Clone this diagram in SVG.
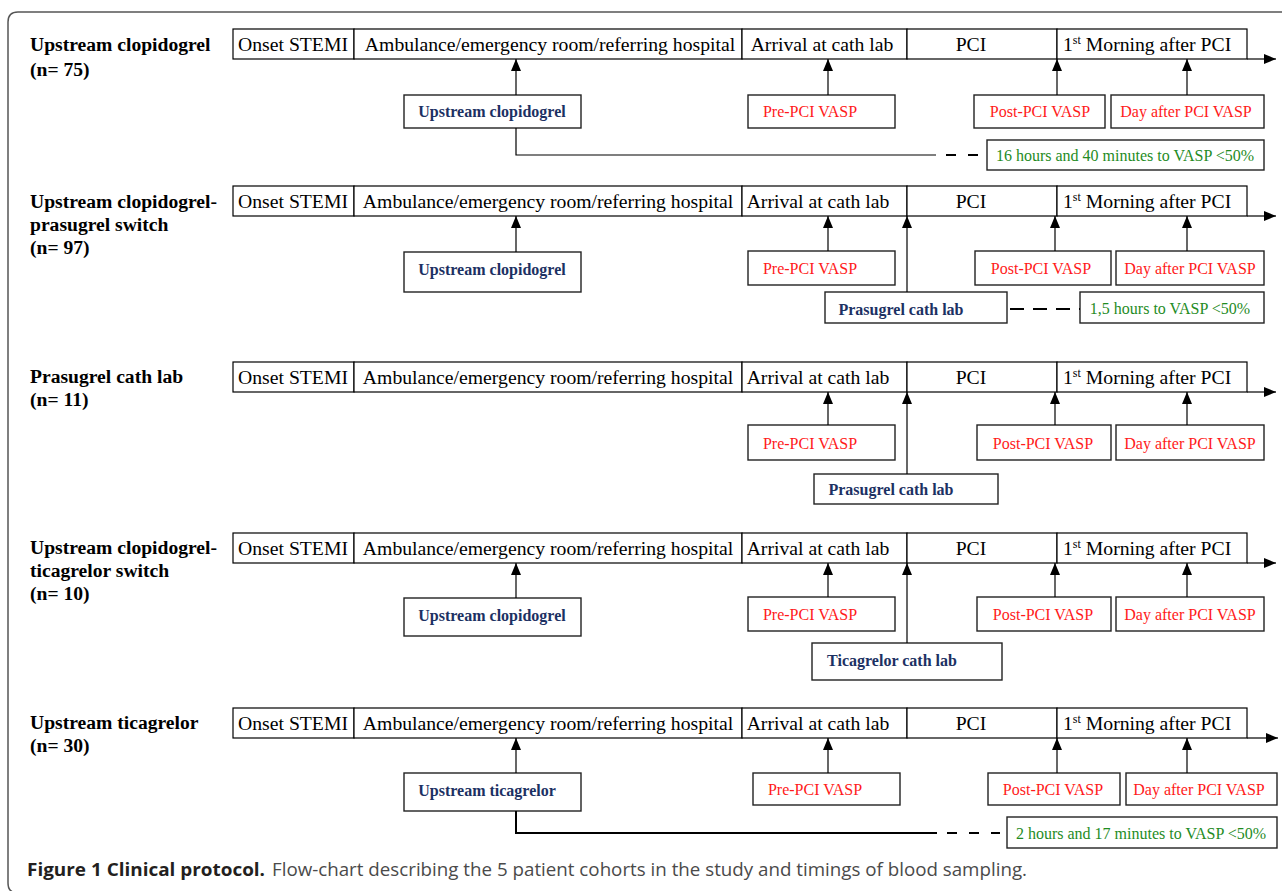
<svg xmlns="http://www.w3.org/2000/svg" width="1282" height="891" viewBox="0 0 1282 891">
<defs>
<style>
.bg{fill:#ffffff}
.frame{fill:none;stroke:#555;stroke-width:1.5}
.seg{fill:#fff;stroke:#000;stroke-width:1.2}
.axis{fill:none;stroke:#000;stroke-width:1.2}
.box{fill:#fff;stroke:#222;stroke-width:1.4}
.conn{fill:none;stroke:#000;stroke-width:1.2}
.dash{fill:none;stroke:#000;stroke-width:2;stroke-dasharray:10 12}
.t{font-family:"Liberation Serif","Times New Roman",serif;font-size:19.7px;fill:#000}
.lbl{font-family:"Liberation Serif","Times New Roman",serif;font-size:19.6px;font-weight:bold;fill:#000}
.blue{font-family:"Liberation Serif","Times New Roman",serif;font-size:16px;font-weight:bold;fill:#1c3163}
.red{font-family:"Liberation Serif","Times New Roman",serif;font-size:16px;fill:#ff1a1a}
.green{font-family:"Liberation Serif","Times New Roman",serif;font-size:16px;fill:#1f8c1f}
.mid{text-anchor:middle}
.cap{font-family:"Open Sans","Noto Sans",sans-serif;font-size:18.5px;fill:#4a4a4a}
.capb{font-family:"Open Sans","Noto Sans",sans-serif;font-size:18.5px;font-weight:bold;fill:#231f20}
</style>
<marker id="ah" viewBox="0 0 12 10" refX="12" refY="5" markerWidth="12" markerHeight="10" orient="auto" markerUnits="userSpaceOnUse">
<path d="M0,0 L12,5 L0,10 z" fill="#000"/>
</marker>
</defs>
<rect class="bg" x="0" y="0" width="1282" height="891"/>
<path class="frame" d="M18,893 Q8,893 8,883 L8,22 Q8,12 18,12 L1290,12"/>

<!-- Cohort labels -->
<g id="label1"><text class="lbl" x="30" y="51">Upstream clopidogrel</text><text class="lbl" x="30" y="76">(n= 75)</text></g>
<g id="label2"><text class="lbl" x="30" y="208">Upstream clopidogrel-</text><text class="lbl" x="30" y="231">prasugrel switch</text><text class="lbl" x="30" y="254">(n= 97)</text></g>
<g id="label3"><text class="lbl" x="30" y="383">Prasugrel cath lab</text><text class="lbl" x="30" y="406">(n= 11)</text></g>
<g id="label4"><text class="lbl" x="30" y="554">Upstream clopidogrel-</text><text class="lbl" x="30" y="577">ticagrelor switch</text><text class="lbl" x="30" y="600">(n= 10)</text></g>
<g id="label5"><text class="lbl" x="30" y="729">Upstream ticagrelor</text><text class="lbl" x="30" y="752">(n= 30)</text></g>

<!-- Timelines -->
<g id="timeline1" transform="translate(0,29)">
<rect class="seg" x="233" y="0" width="121" height="30"/><rect class="seg" x="354" y="0" width="388" height="30"/><rect class="seg" x="742" y="0" width="165" height="30"/><rect class="seg" x="907" y="0" width="150" height="30"/><rect class="seg" x="1057" y="0" width="190" height="30"/>
<line class="axis" x1="1247" y1="30" x2="1276" y2="30" marker-end="url(#ah)"/>
<text class="t mid" x="293" y="22">Onset STEMI</text><text class="t mid" x="550" y="22">Ambulance/emergency room/referring hospital</text><text class="t mid" x="822" y="22">Arrival at cath lab</text><text class="t mid" x="971" y="22">PCI</text><text class="t" x="1063" y="22">1<tspan font-size="12" dy="-7">st</tspan><tspan dy="7"> Morning after PCI</tspan></text>
</g>
<g id="timeline2" transform="translate(0,186)">
<rect class="seg" x="233" y="0" width="121" height="30"/><rect class="seg" x="354" y="0" width="388" height="30"/><rect class="seg" x="742" y="0" width="165" height="30"/><rect class="seg" x="907" y="0" width="150" height="30"/><rect class="seg" x="1057" y="0" width="190" height="30"/>
<line class="axis" x1="1247" y1="30" x2="1276" y2="30" marker-end="url(#ah)"/>
<text class="t mid" x="293" y="22">Onset STEMI</text><text class="t mid" x="548" y="22">Ambulance/emergency room/referring hospital</text><text class="t mid" x="818" y="22">Arrival at cath lab</text><text class="t mid" x="971" y="22">PCI</text><text class="t" x="1063" y="22">1<tspan font-size="12" dy="-7">st</tspan><tspan dy="7"> Morning after PCI</tspan></text>
</g>
<g id="timeline3" transform="translate(0,362)">
<rect class="seg" x="233" y="0" width="121" height="30"/><rect class="seg" x="354" y="0" width="388" height="30"/><rect class="seg" x="742" y="0" width="165" height="30"/><rect class="seg" x="907" y="0" width="150" height="30"/><rect class="seg" x="1057" y="0" width="190" height="30"/>
<line class="axis" x1="1247" y1="30" x2="1276" y2="30" marker-end="url(#ah)"/>
<text class="t mid" x="293" y="22">Onset STEMI</text><text class="t mid" x="548" y="22">Ambulance/emergency room/referring hospital</text><text class="t mid" x="818" y="22">Arrival at cath lab</text><text class="t mid" x="971" y="22">PCI</text><text class="t" x="1063" y="22">1<tspan font-size="12" dy="-7">st</tspan><tspan dy="7"> Morning after PCI</tspan></text>
</g>
<g id="timeline4" transform="translate(0,533)">
<rect class="seg" x="233" y="0" width="121" height="30"/><rect class="seg" x="354" y="0" width="388" height="30"/><rect class="seg" x="742" y="0" width="165" height="30"/><rect class="seg" x="907" y="0" width="150" height="30"/><rect class="seg" x="1057" y="0" width="190" height="30"/>
<line class="axis" x1="1247" y1="30" x2="1276" y2="30" marker-end="url(#ah)"/>
<text class="t mid" x="293" y="22">Onset STEMI</text><text class="t mid" x="548" y="22">Ambulance/emergency room/referring hospital</text><text class="t mid" x="818" y="22">Arrival at cath lab</text><text class="t mid" x="971" y="22">PCI</text><text class="t" x="1063" y="22">1<tspan font-size="12" dy="-7">st</tspan><tspan dy="7"> Morning after PCI</tspan></text>
</g>
<g id="timeline5" transform="translate(0,708)">
<rect class="seg" x="233" y="0" width="121" height="30"/><rect class="seg" x="354" y="0" width="388" height="30"/><rect class="seg" x="742" y="0" width="165" height="30"/><rect class="seg" x="907" y="0" width="150" height="30"/><rect class="seg" x="1057" y="0" width="190" height="30"/>
<line class="axis" x1="1247" y1="30" x2="1278" y2="30" marker-end="url(#ah)"/>
<text class="t mid" x="293" y="22">Onset STEMI</text><text class="t mid" x="548" y="22">Ambulance/emergency room/referring hospital</text><text class="t mid" x="818" y="22">Arrival at cath lab</text><text class="t mid" x="971" y="22">PCI</text><text class="t" x="1063" y="22">1<tspan font-size="12" dy="-7">st</tspan><tspan dy="7"> Morning after PCI</tspan></text>
</g>

<!-- Section 1 nodes -->
<g id="s1-upstream"><rect class="box" x="404" y="95" width="177" height="33"/><text class="blue mid" x="492" y="117">Upstream clopidogrel</text></g>
<g id="s1-pre"><rect class="box" x="748" y="95" width="147" height="33"/><text class="red mid" x="810" y="117">Pre-PCI VASP</text></g>
<g id="s1-post"><rect class="box" x="974" y="95" width="131" height="33"/><text class="red mid" x="1040" y="117">Post-PCI VASP</text></g>
<g id="s1-day"><rect class="box" x="1111" y="95" width="153" height="33"/><text class="red mid" x="1186" y="117">Day after PCI VASP</text></g>
<g id="s1-time"><rect class="box" x="987" y="140" width="277" height="30"/><text class="green mid" x="1125" y="161">16 hours and 40 minutes to VASP &lt;50%</text></g>

<!-- Section 2 nodes -->
<g id="s2-upstream"><rect class="box" x="404" y="252" width="177" height="40"/><text class="blue mid" x="492" y="275">Upstream clopidogrel</text></g>
<g id="s2-pre"><rect class="box" x="748" y="251" width="147" height="34"/><text class="red mid" x="810" y="274">Pre-PCI VASP</text></g>
<g id="s2-post"><rect class="box" x="975" y="251" width="136" height="34"/><text class="red mid" x="1041" y="274">Post-PCI VASP</text></g>
<g id="s2-day"><rect class="box" x="1116" y="251" width="148" height="34"/><text class="red mid" x="1190" y="274">Day after PCI VASP</text></g>
<g id="s2-prasugrel"><rect class="box" x="825" y="292" width="182" height="31"/><text class="blue mid" x="901" y="315">Prasugrel cath lab</text></g>
<g id="s2-time"><rect class="box" x="1080" y="292" width="184" height="31"/><text class="green mid" x="1170" y="314">1,5 hours to VASP &lt;50%</text></g>

<!-- Section 3 nodes -->
<g id="s3-pre"><rect class="box" x="748" y="425" width="147" height="35"/><text class="red mid" x="810" y="449">Pre-PCI VASP</text></g>
<g id="s3-post"><rect class="box" x="977" y="425" width="134" height="35"/><text class="red mid" x="1043" y="449">Post-PCI VASP</text></g>
<g id="s3-day"><rect class="box" x="1116" y="425" width="148" height="35"/><text class="red mid" x="1190" y="449">Day after PCI VASP</text></g>
<g id="s3-prasugrel"><rect class="box" x="814" y="474" width="184" height="30"/><text class="blue mid" x="891" y="495">Prasugrel cath lab</text></g>

<!-- Section 4 nodes -->
<g id="s4-upstream"><rect class="box" x="404" y="598" width="177" height="38"/><text class="blue mid" x="492" y="621">Upstream clopidogrel</text></g>
<g id="s4-pre"><rect class="box" x="748" y="597" width="147" height="34"/><text class="red mid" x="810" y="620">Pre-PCI VASP</text></g>
<g id="s4-post"><rect class="box" x="977" y="597" width="134" height="34"/><text class="red mid" x="1043" y="620">Post-PCI VASP</text></g>
<g id="s4-day"><rect class="box" x="1116" y="597" width="148" height="34"/><text class="red mid" x="1190" y="620">Day after PCI VASP</text></g>
<g id="s4-ticagrelor"><rect class="box" x="812" y="643" width="190" height="37"/><text class="blue mid" x="892" y="666">Ticagrelor cath lab</text></g>

<!-- Section 5 nodes -->
<g id="s5-upstream"><rect class="box" x="404" y="773" width="177" height="38"/><text class="blue mid" x="487" y="796">Upstream ticagrelor</text></g>
<g id="s5-pre"><rect class="box" x="753" y="773" width="147" height="32"/><text class="red mid" x="815" y="795">Pre-PCI VASP</text></g>
<g id="s5-post"><rect class="box" x="988" y="773" width="132" height="32"/><text class="red mid" x="1053" y="795">Post-PCI VASP</text></g>
<g id="s5-day"><rect class="box" x="1126" y="773" width="151" height="32"/><text class="red mid" x="1199" y="795">Day after PCI VASP</text></g>
<g id="s5-time"><rect class="box" x="1007" y="817" width="270" height="31"/><text class="green mid" x="1141" y="839">2 hours and 17 minutes to VASP &lt;50%</text></g>

<!-- Connectors -->
<g id="connectors">
<line class="conn" x1="516" y1="95" x2="516" y2="59" marker-end="url(#ah)"/>
<line class="conn" x1="828" y1="95" x2="828" y2="59" marker-end="url(#ah)"/>
<line class="conn" x1="1057" y1="95" x2="1057" y2="59" marker-end="url(#ah)"/>
<line class="conn" x1="1187" y1="95" x2="1187" y2="59" marker-end="url(#ah)"/>
<polyline class="conn" points="516,128 516,155 936,155"/>
<line class="dash" x1="946" y1="155" x2="980" y2="155"/>

<line class="conn" x1="516" y1="252" x2="516" y2="216" marker-end="url(#ah)"/>
<line class="conn" x1="828" y1="251" x2="828" y2="216" marker-end="url(#ah)"/>
<line class="conn" x1="1055" y1="251" x2="1055" y2="216" marker-end="url(#ah)"/>
<line class="conn" x1="1187" y1="251" x2="1187" y2="216" marker-end="url(#ah)"/>
<line class="conn" x1="907" y1="292" x2="907" y2="216" marker-end="url(#ah)"/>
<line class="dash" x1="1010" y1="309" x2="1080" y2="309" style="stroke-dasharray:14 9"/>

<line class="conn" x1="828" y1="425" x2="828" y2="392" marker-end="url(#ah)"/>
<line class="conn" x1="1055" y1="425" x2="1055" y2="392" marker-end="url(#ah)"/>
<line class="conn" x1="1187" y1="425" x2="1187" y2="392" marker-end="url(#ah)"/>
<line class="conn" x1="907" y1="474" x2="907" y2="392" marker-end="url(#ah)"/>

<line class="conn" x1="516" y1="598" x2="516" y2="563" marker-end="url(#ah)"/>
<line class="conn" x1="828" y1="597" x2="828" y2="563" marker-end="url(#ah)"/>
<line class="conn" x1="1055" y1="597" x2="1055" y2="563" marker-end="url(#ah)"/>
<line class="conn" x1="1187" y1="597" x2="1187" y2="563" marker-end="url(#ah)"/>
<line class="conn" x1="907" y1="643" x2="907" y2="563" marker-end="url(#ah)"/>

<line class="conn" x1="516" y1="773" x2="516" y2="738" marker-end="url(#ah)"/>
<line class="conn" x1="828" y1="773" x2="828" y2="738" marker-end="url(#ah)"/>
<line class="conn" x1="1057" y1="773" x2="1057" y2="738" marker-end="url(#ah)"/>
<line class="conn" x1="1187" y1="773" x2="1187" y2="738" marker-end="url(#ah)"/>
<polyline class="conn" points="516,811 516,833 937,833" style="stroke-width:2"/>
<line class="dash" x1="947" y1="833" x2="1000" y2="833"/>
</g>

<!-- Caption -->
<g id="caption">
<text class="capb" x="27" y="876" textLength="238" lengthAdjust="spacingAndGlyphs">Figure 1 Clinical protocol.</text>
<text class="cap" x="272" y="876" textLength="755" lengthAdjust="spacingAndGlyphs">Flow-chart describing the 5 patient cohorts in the study and timings of blood sampling.</text>
</g>
</svg>
